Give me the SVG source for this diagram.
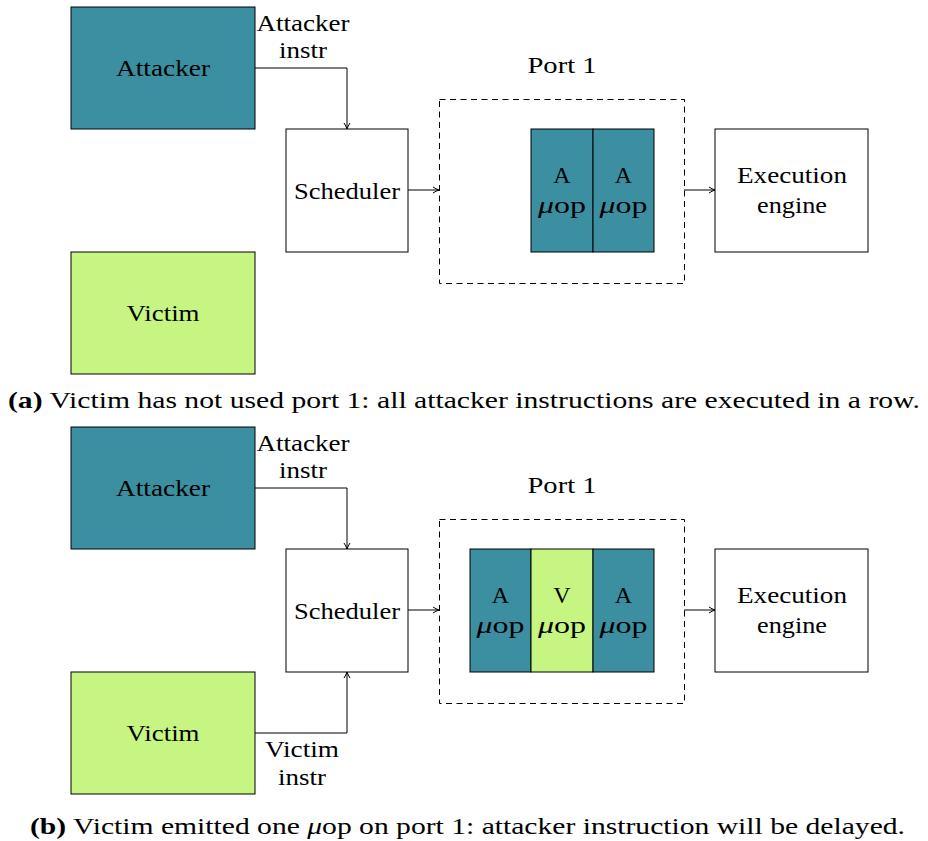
<svg xmlns="http://www.w3.org/2000/svg" width="928" height="841" viewBox="0 0 928 841">
<style>
text{font-family:"Liberation Serif","Times New Roman",serif;font-size:24px;fill:#000;text-anchor:middle}
.box{stroke:#000;stroke-width:1}
.att{fill:#3b8fa1}
.vic{fill:#c6f582}
.wht{fill:#fff}
.dash{fill:none;stroke:#000;stroke-width:1;stroke-dasharray:6,4.5}
.con{fill:none;stroke:#000;stroke-width:1;marker-end:url(#arr)}
.cap{text-anchor:start}
</style>
<defs>
<marker id="arr" viewBox="0 0 8 8" refX="7" refY="4" markerWidth="8" markerHeight="8" markerUnits="userSpaceOnUse" orient="auto">
<path d="M1,1 Q4,3 7,4 Q4,5 1,7" fill="none" stroke="#000" stroke-width="1"/>
</marker>
</defs>
<rect width="928" height="841" fill="#fff"/>

<!-- Panel a -->
<g id="a-attacker"><rect class="box att" x="71" y="7" width="184" height="122"/><text x="163" y="76" textLength="94" lengthAdjust="spacingAndGlyphs">Attacker</text></g>
<g id="a-victim"><rect class="box vic" x="71" y="252" width="184" height="122"/><text x="163" y="321" textLength="73" lengthAdjust="spacingAndGlyphs">Victim</text></g>
<g id="a-scheduler"><rect class="box wht" x="286" y="129" width="122" height="123"/><text x="347" y="199" textLength="106" lengthAdjust="spacingAndGlyphs">Scheduler</text></g>
<g id="a-port"><rect class="dash" x="439.5" y="99.5" width="245" height="184"/><text x="562" y="73" textLength="69" lengthAdjust="spacingAndGlyphs">Port 1</text></g>
<g id="a-uop1"><rect class="box att" x="531" y="129" width="62" height="123"/><text x="562" y="183">A</text><text x="562" y="213" textLength="48" lengthAdjust="spacingAndGlyphs"><tspan font-style="italic">μ</tspan>op</text></g>
<g id="a-uop2"><rect class="box att" x="593" y="129" width="61" height="123"/><text x="623.5" y="183">A</text><text x="623.5" y="213" textLength="48" lengthAdjust="spacingAndGlyphs"><tspan font-style="italic">μ</tspan>op</text></g>
<g id="a-exec"><rect class="box wht" x="715" y="129" width="153" height="123"/><text x="792" y="183" textLength="110" lengthAdjust="spacingAndGlyphs">Execution</text><text x="792" y="213" textLength="70" lengthAdjust="spacingAndGlyphs">engine</text></g>
<g id="a-connectors">
<path class="con" d="M255,68 H347 V129"/>
<path class="con" d="M408,190 H439"/>
<path class="con" d="M684,190 H715"/>
<text x="303" y="31" textLength="93" lengthAdjust="spacingAndGlyphs">Attacker</text>
<text x="303" y="58" textLength="48" lengthAdjust="spacingAndGlyphs">instr</text>
</g>
<text class="cap" x="8" y="408" textLength="912" lengthAdjust="spacingAndGlyphs"><tspan font-weight="bold">(a)</tspan> Victim has not used port 1: all attacker instructions are executed in a row.</text>

<!-- Panel b -->
<g id="b-attacker"><rect class="box att" x="71" y="427" width="184" height="122"/><text x="163" y="496" textLength="94" lengthAdjust="spacingAndGlyphs">Attacker</text></g>
<g id="b-victim"><rect class="box vic" x="71" y="672" width="184" height="122"/><text x="163" y="741" textLength="73" lengthAdjust="spacingAndGlyphs">Victim</text></g>
<g id="b-scheduler"><rect class="box wht" x="286" y="549" width="122" height="123"/><text x="347" y="619" textLength="106" lengthAdjust="spacingAndGlyphs">Scheduler</text></g>
<g id="b-port"><rect class="dash" x="439.5" y="519.5" width="245" height="184"/><text x="562" y="493" textLength="69" lengthAdjust="spacingAndGlyphs">Port 1</text></g>
<g id="b-uop1"><rect class="box att" x="470" y="549" width="61" height="123"/><text x="500.5" y="603">A</text><text x="500.5" y="633" textLength="48" lengthAdjust="spacingAndGlyphs"><tspan font-style="italic">μ</tspan>op</text></g>
<g id="b-uop2"><rect class="box vic" x="531" y="549" width="62" height="123"/><text x="562" y="603">V</text><text x="562" y="633" textLength="48" lengthAdjust="spacingAndGlyphs"><tspan font-style="italic">μ</tspan>op</text></g>
<g id="b-uop3"><rect class="box att" x="593" y="549" width="61" height="123"/><text x="623.5" y="603">A</text><text x="623.5" y="633" textLength="48" lengthAdjust="spacingAndGlyphs"><tspan font-style="italic">μ</tspan>op</text></g>
<g id="b-exec"><rect class="box wht" x="715" y="549" width="153" height="123"/><text x="792" y="603" textLength="110" lengthAdjust="spacingAndGlyphs">Execution</text><text x="792" y="633" textLength="70" lengthAdjust="spacingAndGlyphs">engine</text></g>
<g id="b-connectors">
<path class="con" d="M255,488 H347 V549"/>
<path class="con" d="M255,733 H347 V672"/>
<path class="con" d="M408,610 H439"/>
<path class="con" d="M684,610 H715"/>
<text x="303" y="451" textLength="93" lengthAdjust="spacingAndGlyphs">Attacker</text>
<text x="303" y="478" textLength="48" lengthAdjust="spacingAndGlyphs">instr</text>
<text x="302" y="757" textLength="74" lengthAdjust="spacingAndGlyphs">Victim</text>
<text x="302" y="785" textLength="48" lengthAdjust="spacingAndGlyphs">instr</text>
</g>
<text class="cap" x="30" y="834" textLength="875" lengthAdjust="spacingAndGlyphs"><tspan font-weight="bold">(b)</tspan> Victim emitted one <tspan font-style="italic">μ</tspan>op on port 1: attacker instruction will be delayed.</text>
</svg>
